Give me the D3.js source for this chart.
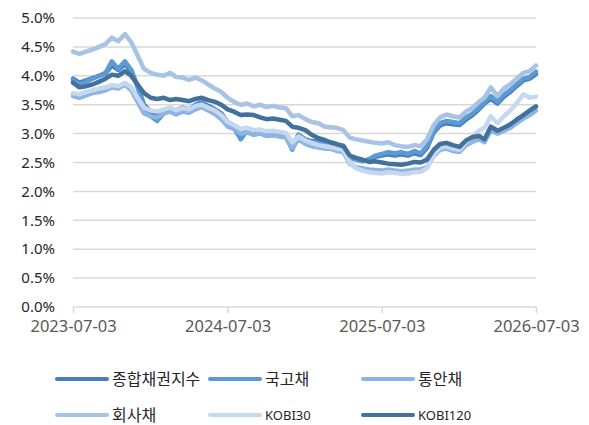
<!DOCTYPE html>
<html>
<head>
<meta charset="utf-8">
<script src="https://cdn.jsdelivr.net/npm/d3@7"></script>
<style>
  body { margin: 0; background: #fff; }
  svg text { font-family: "Noto Sans", "Noto Sans CJK KR", sans-serif; }
</style>
</head>
<body>
<div id="chart"></div>
<script>
// 반월 간격 (매월 3일, 18일) 2023-07-03 ~ 2026-07-03
const dates = d3.range(73).map(i => new Date(2023, 6 + Math.floor(i / 2), i % 2 ? 18 : 3));

const seriesNames = ["종합채권지수", "국고채", "통안채", "회사채", "KOBI30", "KOBI120"];

const total = [3.95, 3.88, 3.92, 3.96, 4.00, 4.04, 4.18, 4.10, 4.20, 4.08, 3.82, 3.50, 3.38, 3.30, 3.40, 3.44,
  3.40, 3.45, 3.42, 3.50, 3.54, 3.48, 3.42, 3.35, 3.20, 3.14, 2.95, 3.08, 3.02, 3.05, 3.00, 3.02, 3.00, 2.98,
  2.80, 2.98, 2.90, 2.87, 2.86, 2.83, 2.84, 2.81, 2.79, 2.60, 2.56, 2.53, 2.55, 2.60, 2.62, 2.64, 2.62, 2.64,
  2.62, 2.66, 2.63, 2.75, 3.02, 3.14, 3.18, 3.16, 3.15, 3.24, 3.32, 3.42, 3.52, 3.60, 3.52, 3.64, 3.72, 3.82,
  3.92, 3.95, 4.03];
const ktb = [3.92, 3.85, 3.90, 3.95, 4.00, 4.05, 4.25, 4.12, 4.25, 4.10, 3.80, 3.45, 3.30, 3.22, 3.35, 3.40,
  3.35, 3.42, 3.38, 3.48, 3.52, 3.45, 3.38, 3.30, 3.15, 3.10, 2.90, 3.05, 2.98, 3.02, 2.97, 2.98, 2.96, 2.95,
  2.72, 2.98, 2.88, 2.85, 2.84, 2.82, 2.83, 2.80, 2.78, 2.58, 2.55, 2.52, 2.56, 2.62, 2.65, 2.68, 2.66, 2.68,
  2.65, 2.70, 2.66, 2.78, 3.05, 3.18, 3.22, 3.20, 3.18, 3.28, 3.35, 3.45, 3.55, 3.65, 3.55, 3.68, 3.75, 3.85,
  3.95, 3.98, 4.07];
const msb = [3.65, 3.62, 3.66, 3.70, 3.72, 3.75, 3.80, 3.78, 3.85, 3.75, 3.55, 3.35, 3.30, 3.28, 3.35, 3.38,
  3.33, 3.38, 3.36, 3.42, 3.46, 3.40, 3.34, 3.25, 3.12, 3.08, 3.00, 3.02, 2.98, 3.00, 2.96, 2.97, 2.95, 2.93,
  2.75, 2.90, 2.82, 2.78, 2.76, 2.74, 2.74, 2.70, 2.68, 2.48, 2.42, 2.40, 2.38, 2.37, 2.36, 2.38, 2.36, 2.35,
  2.36, 2.38, 2.38, 2.42, 2.62, 2.72, 2.74, 2.70, 2.68, 2.80, 2.86, 2.90, 2.85, 3.05, 3.00, 3.05, 3.10, 3.18,
  3.26, 3.32, 3.40];
const corp = [4.42, 4.38, 4.42, 4.45, 4.50, 4.55, 4.66, 4.60, 4.72, 4.58, 4.35, 4.12, 4.05, 4.02, 4.00, 4.05,
  3.98, 3.97, 3.93, 3.97, 3.92, 3.85, 3.78, 3.72, 3.62, 3.55, 3.50, 3.52, 3.47, 3.50, 3.46, 3.48, 3.45, 3.44,
  3.30, 3.32, 3.25, 3.20, 3.18, 3.12, 3.11, 3.10, 3.06, 2.93, 2.90, 2.88, 2.86, 2.84, 2.83, 2.85, 2.80, 2.78,
  2.77, 2.80, 2.78, 2.90, 3.15, 3.28, 3.33, 3.30, 3.28, 3.38, 3.45, 3.55, 3.62, 3.80, 3.65, 3.78, 3.85, 3.95,
  4.05, 4.08, 4.18];
const kobi30 = [3.70, 3.68, 3.72, 3.75, 3.78, 3.80, 3.84, 3.82, 3.88, 3.80, 3.62, 3.45, 3.40, 3.38, 3.42, 3.45,
  3.40, 3.44, 3.42, 3.48, 3.50, 3.45, 3.40, 3.32, 3.20, 3.15, 3.08, 3.10, 3.06, 3.07, 3.04, 3.05, 3.03, 3.01,
  2.85, 2.95, 2.88, 2.84, 2.80, 2.78, 2.77, 2.74, 2.72, 2.50, 2.40, 2.36, 2.33, 2.32, 2.31, 2.33, 2.32, 2.30,
  2.31, 2.33, 2.34, 2.40, 2.64, 2.76, 2.78, 2.74, 2.72, 2.85, 2.95, 3.05, 3.10, 3.30, 3.18, 3.30, 3.40, 3.52,
  3.68, 3.62, 3.64];
const kobi120 = [3.88, 3.80, 3.82, 3.85, 3.90, 3.95, 4.02, 4.00, 4.08, 4.00, 3.85, 3.70, 3.62, 3.60, 3.62, 3.58,
  3.60, 3.58, 3.56, 3.60, 3.62, 3.58, 3.55, 3.50, 3.42, 3.38, 3.32, 3.33, 3.32, 3.28, 3.25, 3.26, 3.24, 3.22,
  3.12, 3.10, 3.06, 2.98, 2.92, 2.89, 2.85, 2.82, 2.78, 2.62, 2.58, 2.55, 2.51, 2.52, 2.50, 2.48, 2.47, 2.46,
  2.48, 2.51, 2.50, 2.55, 2.72, 2.82, 2.84, 2.80, 2.77, 2.88, 2.94, 2.96, 2.90, 3.12, 3.05, 3.10, 3.16, 3.24,
  3.32, 3.40, 3.47];

const colors = ["#4a7ebb", "#5b9bd5", "#8eb4e3", "#a8c3e5", "#c6d8ef", "#41719c"];
const yTicks = [0, 0.5, 1, 1.5, 2, 2.5, 3, 3.5, 4, 4.5, 5];
const xTicks = [new Date(2023, 6, 3), new Date(2024, 6, 3), new Date(2025, 6, 3), new Date(2026, 6, 3)];

const allSeries = [total, ktb, msb, corp, kobi30, kobi120];

const width = 589, height = 425;
const margin = { top: 18, right: 53, bottom: 118, left: 73 };

const svg = d3.select("#chart").append("svg")
  .attr("width", width)
  .attr("height", height);

const x = d3.scaleTime()
  .domain([xTicks[0], xTicks[3]])
  .range([margin.left, width - margin.right]);

const y = d3.scaleLinear()
  .domain([0, 5])
  .range([height - margin.bottom, margin.top]);

// 격자선
svg.append("g")
  .selectAll("line")
  .data(yTicks)
  .enter().append("line")
  .attr("x1", margin.left)
  .attr("x2", width - margin.right)
  .attr("y1", d => y(d))
  .attr("y2", d => y(d))
  .attr("stroke", "#d9d9d9")
  .attr("stroke-width", 1.5);

// y축 라벨
svg.append("g")
  .selectAll("text")
  .data(yTicks)
  .enter().append("text")
  .attr("x", 55)
  .attr("y", d => y(d))
  .attr("dy", "0.35em")
  .attr("text-anchor", "end")
  .attr("font-size", 15)
  .attr("fill", "#262626")
  .text(d => d.toFixed(1) + "%");

// x축 눈금
const xAxis = d3.axisBottom(x)
  .tickValues(xTicks)
  .tickSize(6)
  .tickFormat(d3.timeFormat("%Y-%m-%d"));

const gx = svg.append("g")
  .attr("transform", `translate(0,${y(0)})`)
  .call(xAxis);
gx.select(".domain").remove();
gx.selectAll(".tick line").attr("stroke", "#d9d9d9").attr("stroke-width", 1.5);
gx.selectAll(".tick text")
  .attr("y", 13)
  .attr("font-size", 16.5)
  .attr("fill", "#595959")
  .style("font-family", "'Noto Sans', sans-serif");

// 선
const line = d3.line()
  .x((d, i) => x(dates[i]))
  .y(d => y(d));

svg.append("g")
  .selectAll("path")
  .data(allSeries)
  .enter().append("path")
  .attr("d", d => line(d))
  .attr("fill", "none")
  .attr("stroke", (d, i) => colors[i])
  .attr("stroke-width", 4.5)
  .attr("stroke-linejoin", "round")
  .attr("stroke-linecap", "round");

// 범례
const legendX = [57, 210, 363];
const legendY = [379, 415];
const legend = svg.append("g")
  .selectAll("g")
  .data(seriesNames)
  .enter().append("g")
  .attr("transform", (d, i) => `translate(${legendX[i % 3]},${legendY[Math.floor(i / 3)]})`);

legend.append("line")
  .attr("x1", 0)
  .attr("x2", 50)
  .attr("stroke", (d, i) => colors[i])
  .attr("stroke-width", 4)
  .attr("stroke-linecap", "round");

legend.append("text")
  .attr("x", 55)
  .attr("dy", "0.35em")
  .attr("fill", "#262626")
  .style("font-family", d => d.startsWith("KOBI") ? "'Noto Sans', sans-serif" : "'Noto Sans CJK KR', sans-serif")
  .style("font-size", d => d.startsWith("KOBI") ? "13px" : "16px")
  .text(d => d);
</script>
</body>
</html>
